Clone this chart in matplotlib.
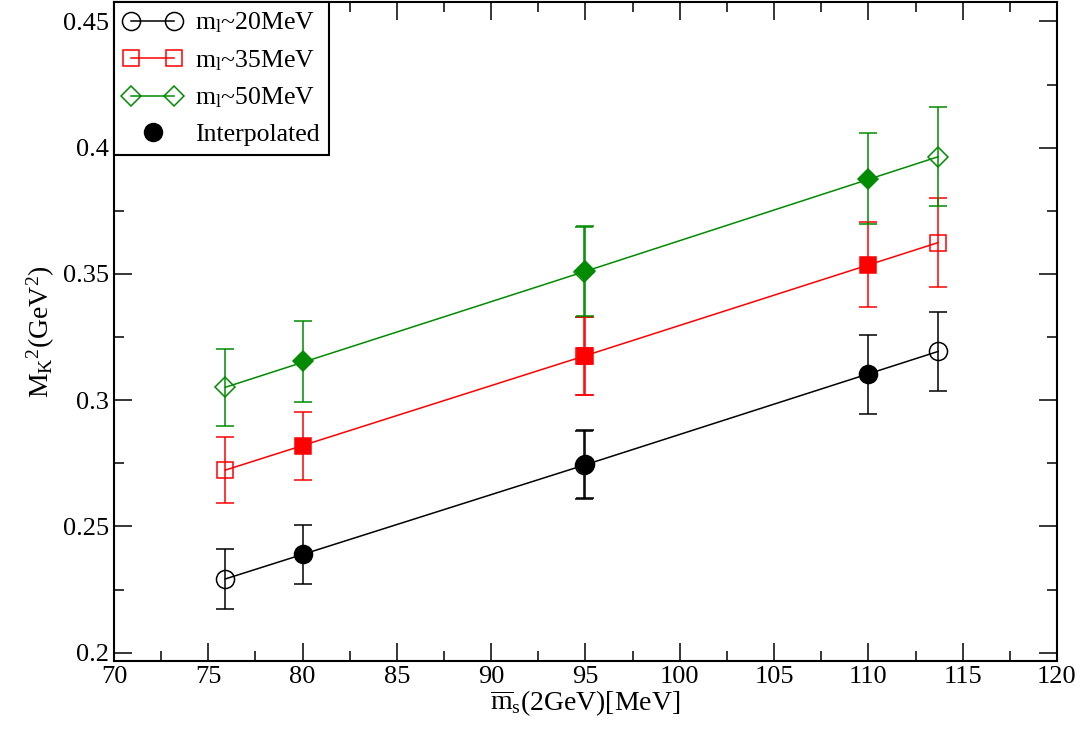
import matplotlib
matplotlib.use("Agg")
import matplotlib.pyplot as plt
from matplotlib.ticker import MultipleLocator
from matplotlib.lines import Line2D
from matplotlib.legend_handler import HandlerLine2D

plt.rcParams['font.family'] = ['Liberation Serif', 'DejaVu Serif']
plt.rcParams['mathtext.fontset'] = 'custom'
plt.rcParams['mathtext.rm'] = 'Liberation Serif'
plt.rcParams['mathtext.it'] = 'Liberation Serif:italic'

# simulated strange masses (open symbols)
ms_sim = [75.9, 94.9, 113.7]
# interpolated strange masses (filled symbols)
ms_int = [80, 95, 110]

labels = ["m$_\\mathregular{l}$~20MeV", "m$_\\mathregular{l}$~35MeV", "m$_\\mathregular{l}$~50MeV"]
colors = ["black", "red", "#008b00"]
markers = ["o", "s", "D"]
msizes = [13, 11.5, 10]

mk2_sim = [[0.2292, 0.2742, 0.3193],
           [0.2723, 0.3174, 0.3624],
           [0.3051, 0.3508, 0.3964]]
err_sim = [[0.0118, 0.0135, 0.0158],
           [0.0130, 0.0155, 0.0177],
           [0.0153, 0.0178, 0.0196]]

mk2_int = [[0.2390, 0.2746, 0.3102],
           [0.2818, 0.3176, 0.3537],
           [0.3154, 0.3512, 0.3877]]
err_int = [[0.0117, 0.0135, 0.0155],
           [0.0135, 0.0155, 0.0170],
           [0.0160, 0.0178, 0.0180]]

fig = plt.figure(figsize=(10.9, 7.33), dpi=100)
ax = fig.add_axes([0.1046, 0.0982, 0.8651, 0.8995])

handles = []
for i in range(3):
    c = colors[i]
    ax.errorbar(ms_sim, mk2_sim[i], yerr=err_sim[i], color=c, lw=1.1,
                marker=markers[i], ms=msizes[i], mfc="none", mec=c, mew=1.1,
                capsize=6.5, capthick=1.1, elinewidth=1.1, zorder=2)
    ax.errorbar(ms_int, mk2_int[i], yerr=err_int[i], color=c, ls="none",
                marker=markers[i], ms=msizes[i], mfc=c, mec=c, mew=1.1,
                capsize=6.5, capthick=1.1, elinewidth=1.1, zorder=3)
    handles.append(Line2D([], [], color=c, lw=1.1, marker=markers[i],
                          ms=msizes[i], mfc="none", mec=c, mew=1.1))
interp = Line2D([], [], color="black", ls="none", marker="o", ms=13,
                mfc="black", mec="black")
handles.append(interp)

ax.set_xlim(70, 120)
ax.set_ylim(0.1967, 0.4578)
ax.xaxis.set_major_locator(MultipleLocator(5))
ax.xaxis.set_minor_locator(MultipleLocator(2.5))
ax.yaxis.set_major_locator(MultipleLocator(0.05))
ax.yaxis.set_minor_locator(MultipleLocator(0.025))
ax.tick_params(which="both", direction="in", top=True, right=True, labelsize=19, width=1.1)
ax.tick_params(which="major", length=13)
ax.tick_params(which="minor", length=7)
ax.set_yticks([0.2, 0.25, 0.3, 0.35, 0.4, 0.45])
ax.set_yticklabels(["0.2", "0.25", "0.3", "0.35", "0.4", "0.45"])
for s in ax.spines.values():
    s.set_linewidth(1.5)

ax.set_xlabel(r"$\overline{\mathregular{m}}_\mathregular{s}$(2GeV)[MeV]", fontsize=20, labelpad=0)
ax.set_ylabel(r"M$_\mathregular{K}$$^\mathregular{2}$(GeV$^\mathregular{2}$)", fontsize=20, labelpad=4)

leg = ax.legend(handles, labels + ["Interpolated"], loc="upper left", numpoints=2,
                handler_map={interp: HandlerLine2D(numpoints=1)},
                fontsize=18.5, fancybox=False, framealpha=1, edgecolor="black",
                borderaxespad=0.0, handlelength=2.3, handletextpad=0.5,
                labelspacing=0.5, borderpad=0.35)
leg.get_frame().set_linewidth(1.5)

fig.savefig("out.png", dpi=100)
